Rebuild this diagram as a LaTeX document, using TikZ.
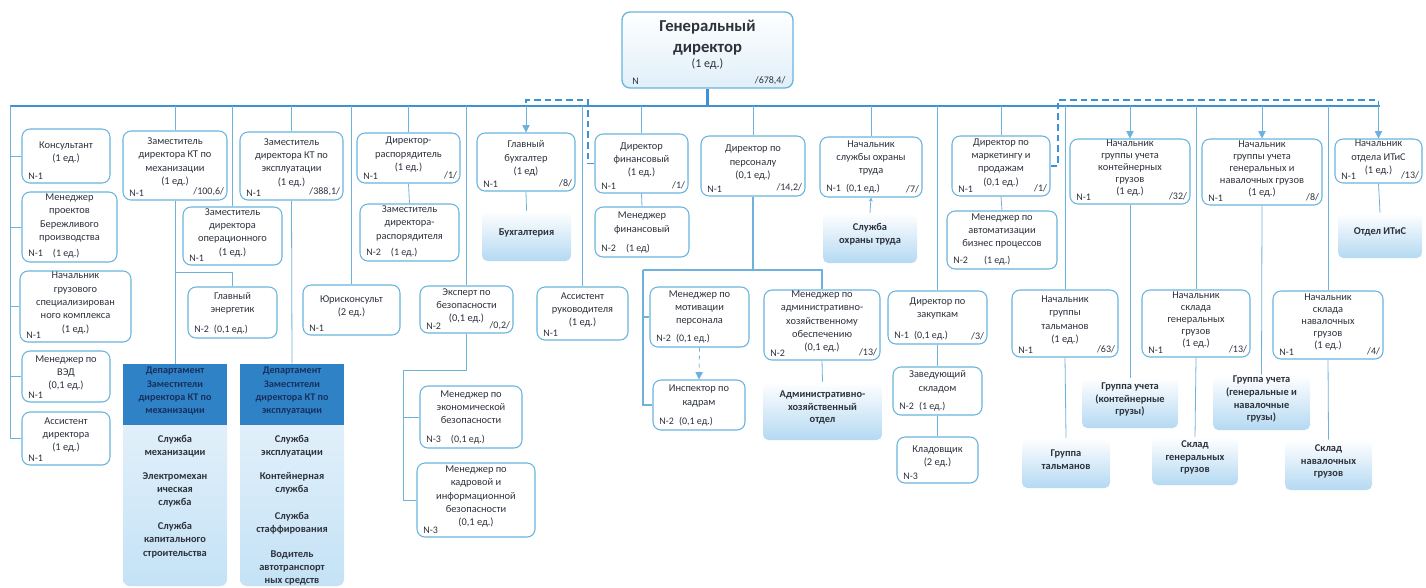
\documentclass[tikz,border=0pt]{standalone}
\usepackage{fontspec}
\setmainfont{Carlito}
\usetikzlibrary{fit,arrows.meta}
\definecolor{boxline}{RGB}{105,180,222}
\definecolor{conline}{RGB}{110,178,220}
\definecolor{busline}{RGB}{62,146,210}
\definecolor{gradblue}{RGB}{180,217,242}
\definecolor{gdblue}{RGB}{224,239,249}
\definecolor{depblue}{RGB}{48,130,198}
\definecolor{deptext}{RGB}{22,48,95}
\definecolor{bodytop}{RGB}{226,240,250}
\definecolor{bodybot}{RGB}{196,226,246}
\definecolor{textgray}{RGB}{45,50,60}
\begin{document}
\begin{tikzpicture}[x=0.75pt,y=0.75pt,yscale=-1,xscale=1,
    every node/.style={text=textgray},
    obox/.style={draw=boxline, line width=0.8pt, rounded corners=6pt, fill=white, inner sep=0pt, align=center, font=\fontsize{7.8}{10}\selectfont},
    tight/.style={font=\fontsize{7.8}{9}\selectfont},
    gbox/.style={rounded corners=4pt, top color=white, bottom color=gradblue, inner sep=0pt, align=center, font=\fontsize{7.8}{9.5}\selectfont\bfseries},
    dhead/.style={fill=depblue, inner sep=0pt, align=center, text=deptext, font=\fontsize{7.6}{10}\selectfont\bfseries},
    dbody/.style={rounded corners=5pt, top color=bodytop, bottom color=bodybot, inner sep=0pt},
    dtext/.style={align=center, inner sep=0pt, font=\fontsize{7.8}{10}\selectfont\bfseries},
    nl/.style={anchor=south west, inner xsep=5pt, inner ysep=3pt, font=\fontsize{7.5}{9}\selectfont},
    vl/.style={anchor=south east, inner xsep=2.5pt, inner ysep=3pt, font=\fontsize{7.5}{9}\selectfont},
    conn/.style={draw=conline, line width=0.6pt},
    bus/.style={draw=busline, line width=1.6pt},
    dashln/.style={draw=busline, line width=1pt, dash pattern=on 5pt off 3pt},
    arr/.style={conn, -{Triangle[length=5.5pt,width=5.5pt]}}
    ]
    \useasboundingbox (0,0) rectangle (1426,587);
    % Top
    \node[obox, line width=1pt, top color=white, bottom color=gdblue, fit={(622,12) (793,88)}, label={[nl, inner xsep=8pt]south west:N}, label={[vl, inner xsep=6pt]south east:{/678,4/}}] (gd) {\fontsize{12.5}{16}\selectfont\bfseries Генеральный\\директор\\[1pt]\fontsize{9}{11}\selectfont\mdseries (1 ед.)};
    % Left column
    \node[obox, fit={(22,129) (110,183)}, label={[nl]south west:N-1}] (kons) {Консультант\\(1 ед.)};
    \node[obox, fit={(22,192) (117,262)}, label={[nl]south west:{N-1\quad(1 ед.)}}] (mpbp) {Менеджер\\проектов\\Бережливого\\производства\\~};
    \node[obox, fit={(20,271) (131,342)}, label={[nl]south west:N-1}] (ngsk) {Начальник\\грузового\\специализирован\\ного комплекса\\(1 ед.)};
    \node[obox, fit={(22,351) (110,402)}, label={[nl]south west:N-1}] (mved) {Менеджер по\\ВЭД\\(0,1 ед.)};
    \node[obox, fit={(22,412) (110,465)}, label={[nl]south west:N-1}] (asdir) {Ассистент\\директора\\(1 ед.)};
    % Deputies KT
    \node[obox, fit={(123,131) (227,200)}, label={[nl]south west:N-1}, label={[vl]south east:{/100,6/}}] (zkm) {Заместитель\\директора КТ по\\механизации\\(1 ед.)};
    \node[obox, fit={(183,207) (282,265)}, label={[nl]south west:N-1}] (zoper) {Заместитель\\директора\\операционного\\(1 ед.)};
    \node[obox, fit={(240,132) (343,200)}, label={[nl]south west:N-1}, label={[vl]south east:{/388,1/}}] (zke) {Заместитель\\директора КТ по\\эксплуатации\\(1 ед.)};
    \node[obox, fit={(188,287) (277,338)}, label={[nl]south west:{N-2\enspace(0,1 ед.)}}] (energ) {Главный\\энергетик\\~};
    % Departments
    \node[dbody, fit={(123,419) (227,586)}] (d1b) {};
    \node[dhead, fit={(123,364) (227,425)}] (d1h) {Департамент\\Заместители\\директора КТ по\\механизации};
    \node[dtext] (d1s1) at (175,446) {Служба\\механизации};
    \node[dtext] (d1s2) at (175,490) {Электромехан\\ическая\\служба};
    \node[dtext] (d1s3) at (175,540) {Служба\\капитального\\строительства};
    \node[dbody, fit={(240,419) (344,586)}] (d2b) {};
    \node[dhead, fit={(240,364) (344,425)}] (d2h) {Департамент\\Заместители\\директора КТ по\\эксплуатации};
    \node[dtext] (d2s1) at (292,446) {Служба\\эксплуатации};
    \node[dtext] (d2s2) at (292,483) {Контейнерная\\служба};
    \node[dtext] (d2s3) at (292,523) {Служба\\стаффирования};
    \node[dtext] (d2s4) at (292,568) {Водитель\\автотранспорт\\ных средств};
    % Middle
    \node[obox, fit={(303,285) (400,335)}, label={[nl]south west:N-1}] (ur) {Юрисконсульт\\(2 ед.)};
    \node[obox, fit={(357,133) (460,183)}, label={[nl]south west:N-1}, label={[vl]south east:{/1/}}] (drasp) {Директор-\\распорядитель\\(1 ед.)};
    \node[obox, fit={(360,204) (459,261)}, label={[nl]south west:{N-2\quad(1 ед.)}}] (zdrasp) {Заместитель\\директора-\\распорядителя\\~};
    \node[obox, fit={(420,286) (513,333)}, label={[nl]south west:N-2}, label={[vl]south east:{/0,2/}}] (eksp) {Эксперт по\\безопасности\\(0,1 ед.)};
    \node[obox, fit={(420,386) (522,448)}, label={[nl]south west:{N-3\quad(0,1 ед.)}}] (meb) {Менеджер по\\экономической\\безопасности\\~};
    \node[obox, fit={(417,463) (535,537)}, label={[nl]south west:N-3}] (mkib) {Менеджер по\\кадровой и\\информационной\\безопасности\\(0,1 ед.)};
    \node[obox, fit={(477,133) (575,191)}, label={[nl]south west:N-1}, label={[vl]south east:{/8/}}] (gb) {Главный\\бухгалтер\\(1 ед)};
    \node[gbox, fit={(482,211) (571,261)}] (buh) {Бухгалтерия};
    \node[obox, fit={(537,287) (628,340)}, label={[nl]south west:N-1}] (asruk) {Ассистент\\руководителя\\(1 ед.)};
    \node[obox, fit={(595,134) (688,193)}, label={[nl]south west:N-1}, label={[vl]south east:{/1/}}] (fin) {Директор\\финансовый\\(1 ед.)};
    \node[obox, fit={(595,207) (689,257)}, label={[nl]south west:{N-2\quad(1 ед)}}] (mfin) {Менеджер\\финансовый\\~};
    \node[obox, fit={(701,136) (805,196)}, label={[nl]south west:N-1}, label={[vl]south east:{/14,2/}}] (dpers) {Директор по\\персоналу\\(0,1 ед.)};
    \node[obox, fit={(650,287) (749,347)}, label={[nl]south west:{N-2\enspace(0,1 ед.)}}] (mmot) {Менеджер по\\мотивации\\персонала\\~};
    \node[obox, fit={(653,380) (745,430)}, label={[nl]south west:{N-2\enspace(0,1 ед.)}}] (insp) {Инспектор по\\кадрам\\~};
    \node[obox, fit={(764,290) (880,360)}, label={[nl]south west:N-2}, label={[vl]south east:{/13/}}] (mahz) {Менеджер по\\административно-\\хозяйственному\\обеспечению\\(0,1 ед.)};
    \node[gbox, fit={(763,382) (882,440)}] (ahotd) {Административно-\\хозяйственный\\отдел};
    \node[obox, fit={(820,137) (922,197)}, label={[nl]south west:{N-1\enspace(0,1 ед.)}}, label={[vl]south east:{/7/}}] (oxr) {Начальник\\службы охраны\\труда\\~};
    \node[gbox, fit={(823,213) (917,263)}] (sot) {Служба\\охраны труда};
    \node[obox, fit={(888,291) (987,344)}, label={[nl]south west:{N-1\enspace(0,1 ед.)}}, label={[vl]south east:{/3/}}] (zak) {Директор по\\закупкам\\~};
    \node[obox, fit={(893,367) (982,415)}, label={[nl]south west:{N-2\enspace(1 ед.)}}] (zavsk) {Заведующий\\складом\\~};
    \node[obox, fit={(897,437) (978,483)}, label={[nl]south west:N-3}] (klad) {Кладовщик\\(2 ед.)};
    \node[obox, fit={(952,136) (1050,196)}, label={[nl]south west:N-1}, label={[vl]south east:{/1/}}] (mark) {Директор по\\маркетингу и\\продажам\\(0,1 ед.)};
    \node[obox, fit={(947,211) (1057,269)}, label={[nl]south west:{N-2\hspace{12pt}(1 ед.)}}] (mavt) {Менеджер по\\автоматизации\\бизнес процессов\\~};
    % Right
    \node[obox, tight, fit={(1070,139) (1190,204)}, label={[nl]south west:N-1}, label={[vl]south east:{/32/}}] (gkont) {Начальник\\группы учета\\контейнерных\\грузов\\(1 ед.)};
    \node[obox, tight, fit={(1202,139) (1322,205)}, label={[nl]south west:N-1}, label={[vl]south east:{/8/}}] (ggen) {Начальник\\группы учета\\генеральных и\\навалочных грузов\\(1 ед.)};
    \node[obox, fit={(1335,139) (1422,183)}, label={[nl]south west:N-1}, label={[vl]south east:{/13/}}] (itis) {Начальник\\отдела ИТиС\\(1 ед.)};
    \node[gbox, fit={(1338,213) (1422,258)}] (oitis) {Отдел ИТиС};
    \node[obox, fit={(1012,290) (1118,357)}, label={[nl]south west:N-1}, label={[vl]south east:{/63/}}] (tal) {Начальник\\группы\\тальманов\\(1 ед.)};
    \node[obox, tight, fit={(1142,290) (1250,357)}, label={[nl]south west:N-1}, label={[vl]south east:{/13/}}] (sgen) {Начальник\\склада\\генеральных\\грузов\\(1 ед.)};
    \node[obox, tight, fit={(1273,291) (1383,359)}, label={[nl]south west:N-1}, label={[vl]south east:{/4/}}] (snav) {Начальник\\склада\\навалочных\\грузов\\(1 ед.)};
    \node[gbox, fit={(1082,378) (1178,428)}] (gukont) {Группа учета\\(контейнерные\\грузы)};
    \node[gbox, fit={(1213,375) (1310,430)}] (gugen) {Группа учета\\(генеральные и\\навалочные\\грузы)};
    \node[gbox, fit={(1022,438) (1110,488)}] (gtal) {Группа\\тальманов};
    \node[gbox, fit={(1152,437) (1238,485)}] (skgen) {Склад\\генеральных\\грузов};
    \node[gbox, fit={(1285,440) (1372,490)}] (sknav) {Склад\\навалочных\\грузов};
    % Bus
    \coordinate (busL) at (10,106);
    \coordinate (busR) at (1380,106);
    \coordinate (dashA) at (588,100);
    \coordinate (dashB) at (1058,100);
    \draw[bus] (busL) -- (busR);
    \draw[bus] (gd.south) -- (gd.south |- busL);
    \draw[conn] (busL) |- (asdir.west);
    \foreach \n in {kons,mpbp,ngsk,mved}
        \draw[conn] (\n.west -| busL) -- (\n.west);
    \foreach \n in {zkm,zoper,zke,ur,drasp,eksp,asruk,fin,dpers,oxr,zak,mark,tal,sgen,snav}
        \draw[conn] (\n.north |- busL) -- (\n.north);
    \foreach \n in {gb,gkont,ggen,itis}
        \draw[arr] (\n.north |- busL) -- (\n.north);
    % Dashed links
    \draw[dashln] (fin.west) -| (dashA) -- (dashA -| gb.north) -- (gb.north |- busL);
    \draw[dashln] (mark.east) -| (dashB) -- (dashB -| itis.north) -- (itis.north |- busL);
    % Sub-trees
    \draw[conn] (zkm.south) -- (d1h.north);
    \draw[conn] (zke.south) -- (d2h.north);
    \draw[conn] (energ.north) -- ++(0,-14) -| (zkm.south);
    \draw[conn] (drasp.south) -- (zdrasp.north);
    \draw[conn] (gb.south) -- (buh.north);
    \coordinate (ekspJ) at (403,370);
    \draw[conn] (eksp.south) |- (ekspJ) |- (mkib.west);
    \draw[conn] (ekspJ |- meb.west) -- (meb.west);
    \draw[conn] (fin.south) -- (mfin.north);
    \coordinate (persL) at (643,270);
    \coordinate (persR) at (822,270);
    \draw[conn, line width=1.1pt] (dpers.south) -- (dpers.south |- persL);
    \draw[conn, line width=1.1pt] (persL) -- (persR) -- (mahz.north);
    \draw[conn, line width=1.1pt] (persL) |- (insp.west);
    \draw[conn, line width=1.1pt] (persL |- mmot.west) -- (mmot.west);
    \draw[arr, dashed] (mmot.south) -- (insp.north);
    \draw[conn] (mahz.south) -- (ahotd.north);
    \draw[conn, -{Stealth[length=3pt,width=3pt]}] (sot.north) -- (oxr.south);
    \draw[conn] (zak.south) -- (zavsk.north);
    \draw[conn] (zavsk.south) -- (klad.north);
    \draw[conn] (mark.south) -- (mavt.north);
    \draw[conn] (itis.south) -- (oitis.north);
    \draw[conn] (gkont.south) -- (gukont.north);
    \draw[conn] (ggen.south) -- (gugen.north);
    \draw[conn] (tal.south) -- (gtal.north);
    \draw[conn] (sgen.south) -- (skgen.north);
    \draw[conn] (snav.south) -- (sknav.north);
\end{tikzpicture}
\end{document}
